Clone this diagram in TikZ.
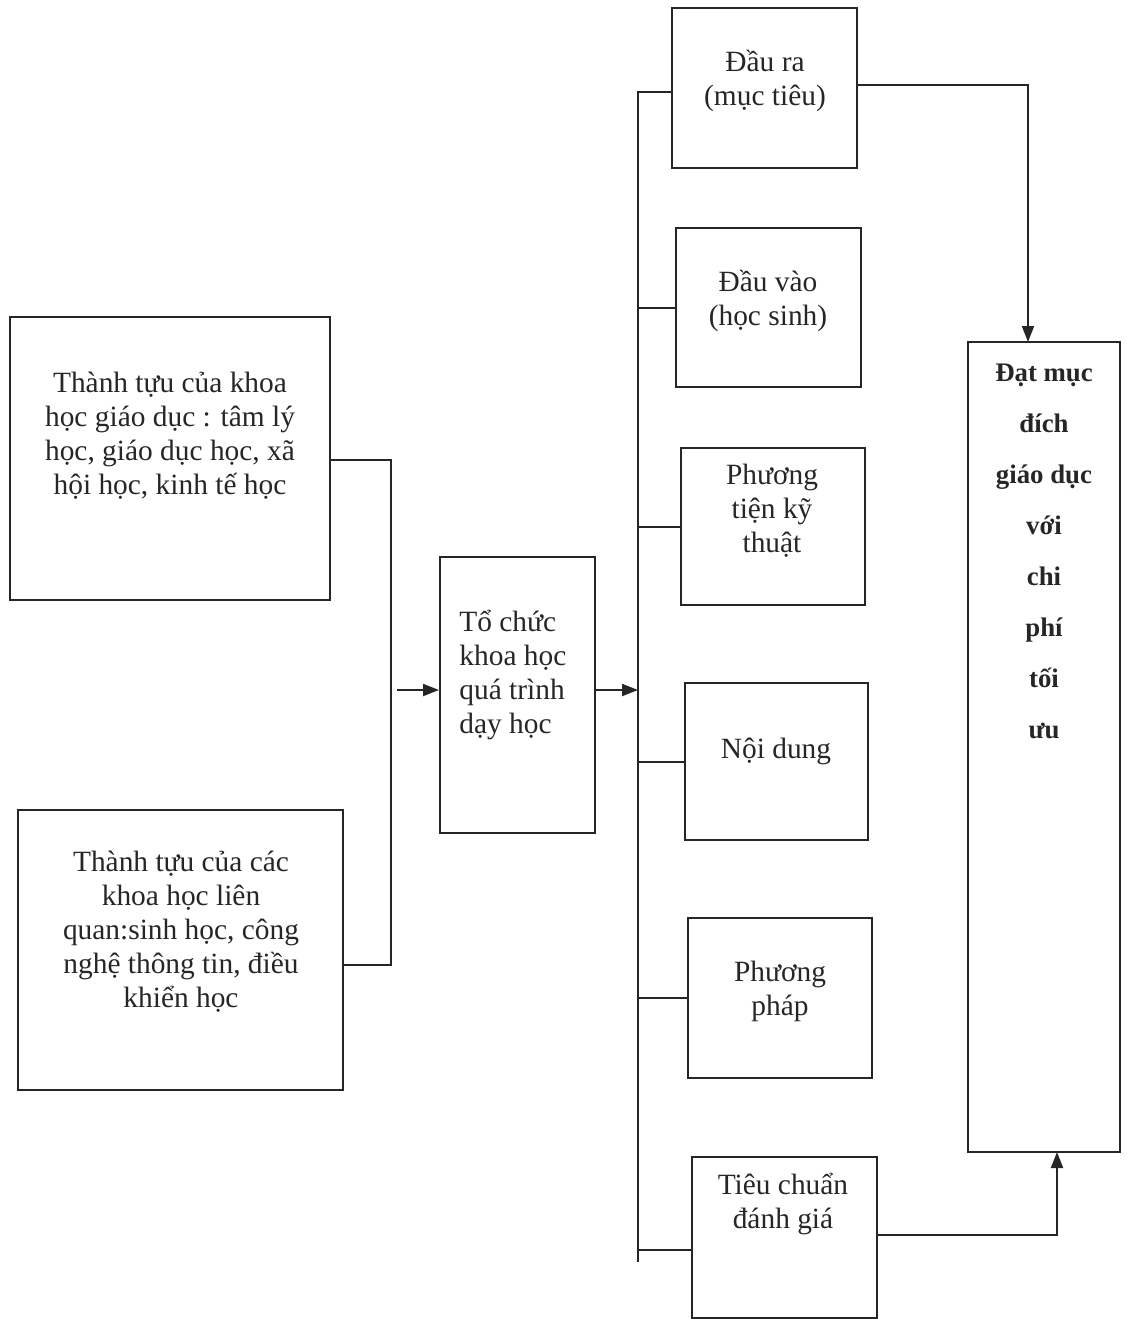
\documentclass[tikz,border=0pt]{standalone}
\usepackage{fontspec}
\setmainfont{Liberation Serif}
\usetikzlibrary{arrows.meta,fit}
\definecolor{ink}{HTML}{262626}
\begin{document}
\begin{tikzpicture}[x=0.5pt,y=-0.5pt,
  box/.style={draw=ink,line width=1pt,inner sep=0pt,fit={#1}},
  txt/.style={text=ink,font=\fontsize{14.7pt}{17pt}\selectfont,align=center,inner sep=0pt},
  btxt/.style={text=ink,font=\fontsize{13.4pt}{25.5pt}\selectfont\bfseries,align=center,inner sep=0pt},
  ln/.style={draw=ink,line width=1pt},
  arr/.style={ln,-{Triangle[length=8pt,width=6pt]}}]
\useasboundingbox (0,0) rectangle (1126,1319);

% left boxes
\node[box={(10,317) (330,600)}] (L1) {};
\node[txt] (L1t) at (170,436) {Thành tựu của khoa\\học giáo dục : tâm lý\\học, giáo dục học, xã\\hội học, kinh tế học};
\node[box={(18,810) (343,1090)}] (L2) {};
\node[txt] (L2t) at (181,932) {Thành tựu của các\\khoa học liên\\quan:sinh học, công\\nghệ thông tin, điều\\khiển học};

% middle box
\node[box={(440,557) (595,833)}] (M) {};
\node[txt,align=left,anchor=west] (Mt) at (459,675) {Tổ chức\\khoa học\\quá trình\\dạy học};

% right column boxes
\node[box={(672,8) (857,168)}] (R1) {};
\node[txt] (R1t) at (765,81) {Đầu ra\\(mục tiêu)};
\node[box={(676,228) (861,387)}] (R2) {};
\node[txt] (R2t) at (768,301) {Đầu vào\\(học sinh)};
\node[box={(681,448) (865,605)}] (R3) {};
\node[txt] (R3t) at (772,511) {Phương\\tiện kỹ\\thuật};
\node[box={(685,683) (868,840)}] (R4) {};
\node[txt] (R4t) at (776,751) {Nội dung};
\node[box={(688,918) (872,1078)}] (R5) {};
\node[txt] (R5t) at (780,991) {Phương\\pháp};
\node[box={(692,1157) (877,1318)}] (R6) {};
\node[txt] (R6t) at (783,1204) {Tiêu chuẩn\\đánh giá};

% goal box
\node[box={(968,342) (1120,1152)}] (D) {};
\node[btxt] (Dt) at (1044,551) {Đạt mục\\đích\\giáo dục\\với\\chi\\phí\\tối\\ưu};

% connectors left
\coordinate (j1) at (391,460);
\coordinate (j2) at (391,965);
\draw[ln] (L1.east |- j1) -- (j1) -- (j2) -- (L2.east |- j2);
\coordinate (a1) at (397,690);
\draw[arr] (a1) -- (M.west |- a1);
\coordinate (bustop) at (638,92);
\coordinate (busbot) at (638,1262);
\draw[arr] (M.east |- a1) -- (bustop |- a1);

% bus
\draw[ln] (R1.west |- bustop) -- (bustop) -- (busbot);
\draw[ln] (bustop |- R2.west) -- (R2.west);
\draw[ln] (bustop |- R3.west) -- (R3.west);
\draw[ln] (bustop |- R4.west) -- (R4.west);
\draw[ln] (bustop |- R5.west) -- (R5.west);
\coordinate (b6) at (638,1250);
\draw[ln] (b6) -- (R6.west |- b6);

% to goal
\coordinate (dn) at (1028,342);
\draw[arr] (R1.east |- 0,85) -| (dn);
\coordinate (up) at (1057,1152);
\draw[arr] (R6.east |- 0,1235) -| (up);
\end{tikzpicture}
\end{document}
